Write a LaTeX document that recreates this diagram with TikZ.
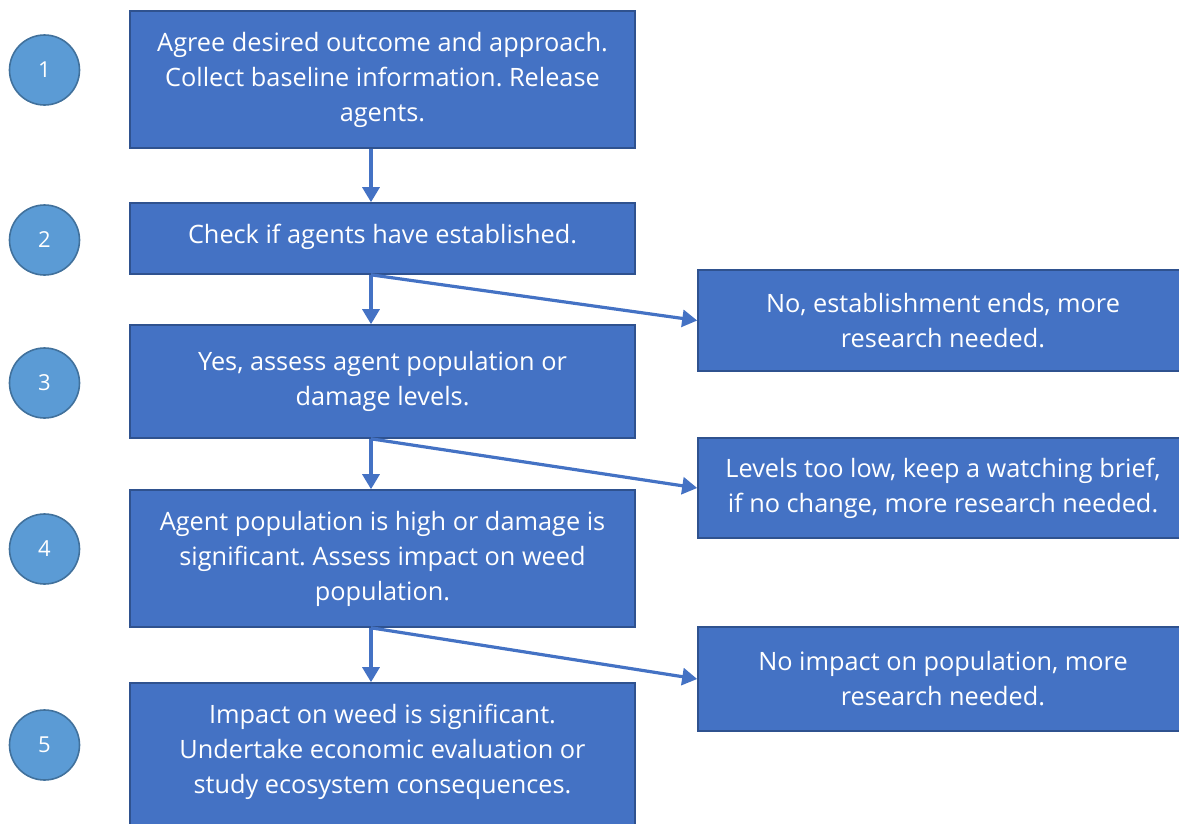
\documentclass[tikz,border=0pt]{standalone}
\usepackage{fontspec}
\setmainfont{Open Sans}
\usetikzlibrary{arrows.meta,calc}
\frenchspacing
\definecolor{boxfill}{HTML}{4472C4}
\definecolor{boxline}{HTML}{2F528F}
\definecolor{dotfill}{HTML}{5B9BD5}
\definecolor{dotline}{HTML}{41719C}
\tikzset{
  boxtext/.style={text=white, align=center, inner sep=0pt,
    font=\fontsize{25.3}{35}\selectfont},
  stepbox/.style={draw=boxline, fill=boxfill, line width=1.6pt, boxtext},
  numdot/.style={circle, draw=dotline, fill=dotfill, line width=1.6pt, text=white,
    minimum size=70pt, inner sep=0pt, font=\fontsize{22}{26}\selectfont},
  flow/.style={draw=boxfill, line width=3.2pt, -{Triangle[length=15pt,width=17pt]}}
}
\begin{document}
\begin{tikzpicture}[x=1pt,y=-1pt]
\useasboundingbox (0,0) rectangle (1179,823);
% main column of steps
\node[stepbox, minimum width=505pt, minimum height=137pt] (b1) at (382.5,79.5)
  {Agree desired outcome and approach.\\Collect baseline information. Release\\agents.};
\node[stepbox, minimum width=505pt, minimum height=71pt] (b2) at (382.5,238.5) {};
\node[boxtext] (t2) at (382.5,236.5) {Check if agents have established.};
\node[stepbox, minimum width=505pt, minimum height=113pt] (b3) at (382.5,381.5)
  {Yes, assess agent population or\\damage levels.};
\node[stepbox, minimum width=505pt, minimum height=137pt] (b4) at (382.5,558.5)
  {Agent population is high or damage is\\significant. Assess impact on weed\\population.};
\node[stepbox, minimum width=505pt, minimum height=150pt] (b5) at (382.5,758) {};
\node[boxtext] (t5) at (382.5,752)
  {Impact on weed is significant.\\Undertake economic evaluation or\\study ecosystem consequences.};
% outcome boxes on the right
\node[stepbox, minimum width=490pt, minimum height=101pt] (r1) at (943,320.5)
  {No, establishment ends, more\\research needed.};
\node[stepbox, minimum width=490pt, minimum height=100pt] (r2) at (943,488)
  {Levels too low, keep a watching brief,\\if no change, more research needed.};
\node[stepbox, minimum width=490pt, minimum height=104pt] (r3) at (943,679)
  {No impact on population, more\\research needed.};
% stage numbers
\node[numdot] (n1) at (44.5,70) {1};
\node[numdot] (n2) at (44.5,240) {2};
\node[numdot] (n3) at (44.5,383) {3};
\node[numdot] (n4) at (44.5,549) {4};
\node[numdot] (n5) at (44.5,745) {5};
% branch points under each step
\coordinate (o1) at ($(b1.south)+(-11.5,0)$);
\coordinate (o2) at ($(b2.south)+(-11.5,0)$);
\coordinate (o3) at ($(b3.south)+(-11.5,0)$);
\coordinate (o4) at ($(b4.south)+(-11.5,0)$);
\draw[flow] (o1) -- (o1 |- b2.north);
\draw[flow] (o2) -- (o2 |- b3.north);
\draw[flow] (o3) -- (o3 |- b4.north);
\draw[flow] (o4) -- (o4 |- b5.north);
\draw[flow] (o2) -- (r1.west);
\draw[flow] (o3) -- (r2.west);
\draw[flow] (o4) -- (r3.west);
\end{tikzpicture}
\end{document}
